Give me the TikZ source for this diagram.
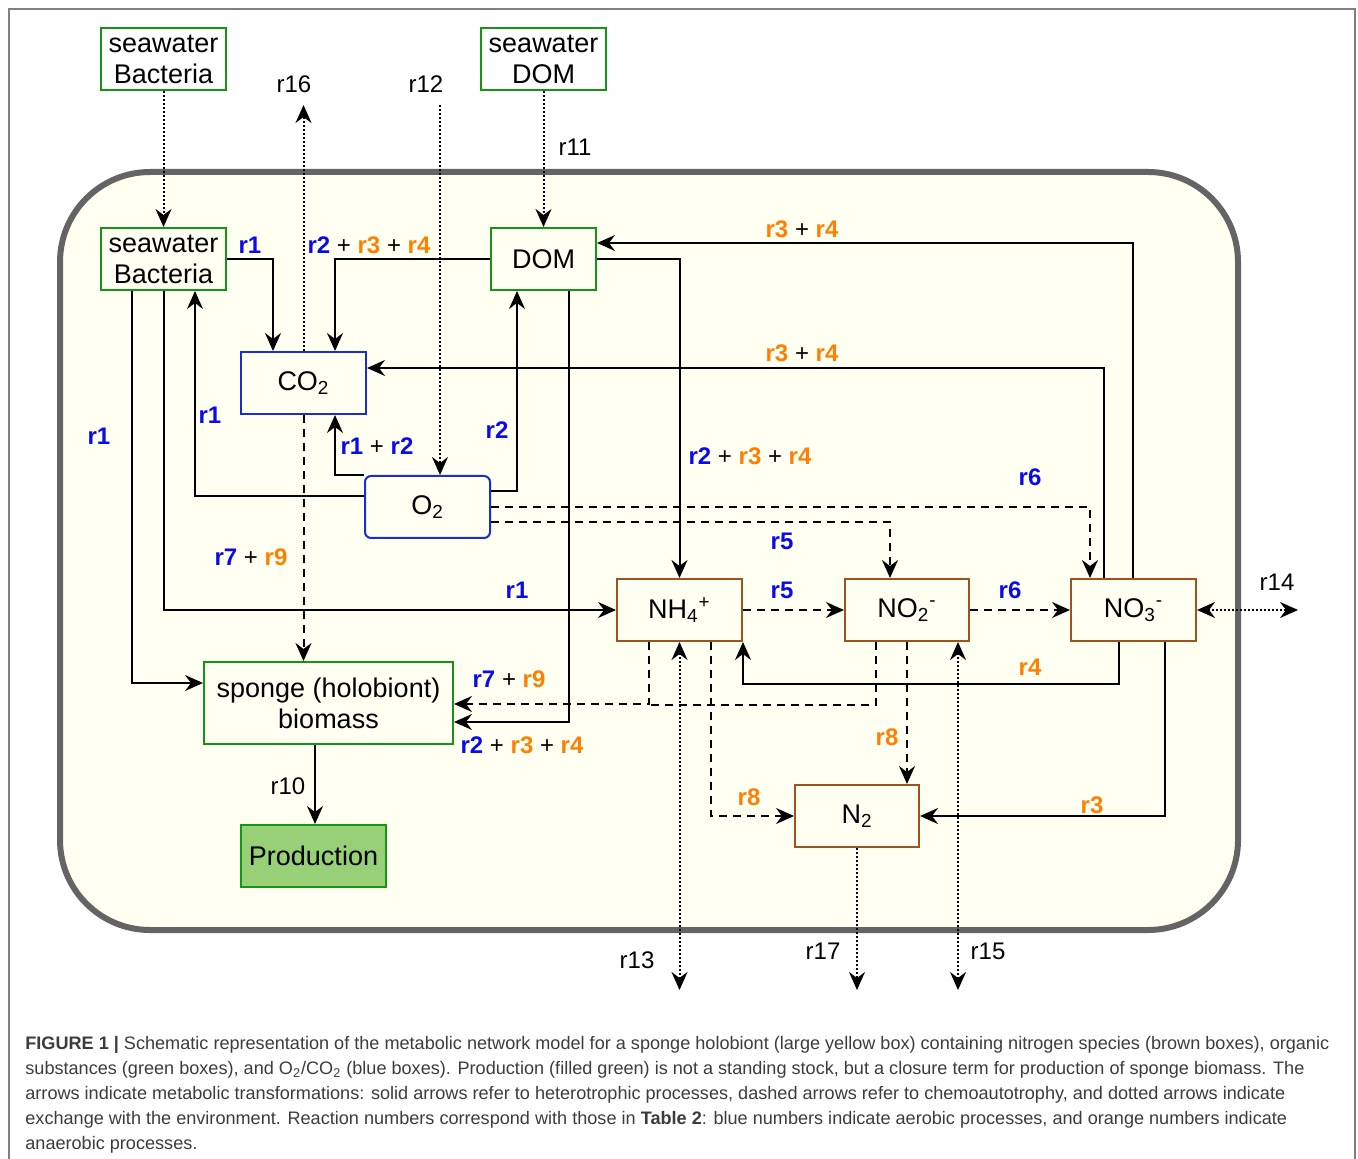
\documentclass[tikz,border=0pt]{standalone}
\usepackage{fontspec}
\setmainfont{Liberation Sans}
\usetikzlibrary{arrows.meta,calc}
\definecolor{gbox}{RGB}{20,150,20}
\definecolor{bbox}{RGB}{25,45,215}
\definecolor{nbox}{RGB}{160,82,30}
\definecolor{lblue}{RGB}{10,10,240}
\definecolor{lorange}{RGB}{255,128,0}
\definecolor{bgfill}{RGB}{255,255,242}
\definecolor{prodfill}{RGB}{151,208,119}
\definecolor{framegray}{RGB}{100,100,100}
\definecolor{captxt}{RGB}{60,60,60}
\newcommand{\rb}[1]{\textcolor{lblue}{\textbf{#1}}}
\newcommand{\ro}[1]{\textcolor{lorange}{\textbf{#1}}}
\begin{document}
\begin{tikzpicture}[x=0.5pt,y=-0.5pt,
  bx/.style={draw=#1,line width=1pt,inner sep=0pt,align=center,font=\fontsize{13.5}{15.5}\selectfont},
  gb/.style={bx=gbox},
  bb/.style={bx=bbox},
  nb/.style={bx=nbox},
  tip/.tip={Stealth[length=9pt,width=8pt,inset=3pt]},
  conn/.style={line width=1pt,-tip},
  dsh/.style={conn,dash pattern=on 4pt off 3pt},
  dtt/.style={conn,dash pattern=on 1pt off 1pt},
  lbl/.style={font=\fontsize{12}{14}\selectfont,inner sep=0pt}]
\useasboundingbox (0,0) rectangle (1358,1159);
\fill[white] (0,0) rectangle (1358,1159);
\draw[line width=0.6pt,gray] (9,1159) -- (9,9) -- (1355,9) -- (1355,1159);
\draw[line width=3pt,draw=framegray,fill=bgfill,rounded corners=45pt] (60,172) rectangle (1238,930);

% nodes
\node[gb,minimum width=62.5pt,minimum height=31pt] (swb) at (163.5,59) {seawater\\Bacteria};
\node[gb,minimum width=62.5pt,minimum height=31pt] (swd) at (543.5,59) {seawater\\DOM};
\node[gb,minimum width=62.5pt,minimum height=31pt] (bact) at (163.5,259) {seawater\\Bacteria};
\node[gb,minimum width=52.5pt,minimum height=31pt] (dom) at (543.5,259) {DOM};
\node[bb,minimum width=62.5pt,minimum height=31pt] (co2) at (303.5,383) {CO\textsubscript{2}};
\node[bb,rounded corners=3pt,minimum width=62.5pt,minimum height=31pt] (o2) at (427.5,507) {O\textsubscript{2}};
\node[nb,minimum width=62.5pt,minimum height=31pt] (nh4) at (679.5,610) {NH\textsubscript{4}\textsuperscript{+}};
\node[nb,minimum width=62pt,minimum height=31pt] (no2) at (907,610) {NO\textsubscript{2}\textsuperscript{-}};
\node[nb,minimum width=62.5pt,minimum height=31pt] (no3) at (1133.5,610) {NO\textsubscript{3}\textsuperscript{-}};
\node[gb,minimum width=124.5pt,minimum height=41pt] (sponge) at (328.5,703) {sponge (holobiont)\\biomass};
\node[gb,fill=prodfill,minimum width=72.5pt,minimum height=31pt] (prod) at (313.5,856) {Production};
\node[nb,minimum width=62pt,minimum height=31pt] (n2) at (857,816) {N\textsubscript{2}};

% free ends
\coordinate (e16) at (303.5,105);
\coordinate (e12) at (440,105);
\coordinate (e14) at (1298,610);
\coordinate (e13) at (679.5,990);
\coordinate (e15) at (958,990);
\coordinate (e17) at (857,990);

% exchange (dotted)
\draw[dtt] (swb.south) -- (bact.north);
\draw[dtt] (swd.south) -- (dom.north);
\draw[dtt] (co2.north) -- (e16);
\draw[dtt] (e12) -- ($(o2.north)+(12.5,0)$);
\draw[dtt,tip-tip] (no3.east) -- (e14);
\draw[dtt,tip-tip] (nh4.south) -- (e13);
\draw[dtt,tip-tip] ($(no2.south)+(51,0)$) -- (e15);
\draw[dtt] (n2.south) -- (e17);

% solid
\draw[conn] (bact.east) -| ($(co2.north)+(-30.5,0)$);
\draw[conn] (dom.west) -| ($(co2.north)+(31.5,0)$);
\draw[conn] (o2.north west) -| ($(co2.south)+(31.5,0)$);
\draw[conn] ($(o2.west)+(0,-11)$) -| ($(bact.south)+(31.5,0)$);
\draw[conn] ($(o2.east)+(0,-16)$) -| ($(dom.south)+(-26.5,0)$);
\draw[conn] (dom.east) -| (nh4.north);
\draw[conn] ($(dom.south)+(25.5,0)$) |- ($(sponge.east)+(0,19)$);
\draw[conn] ($(no3.north)+(-0.5,0)$) |- ($(dom.east)+(0,-16)$);
\draw[conn] ($(no3.north)+(-29.5,0)$) |- ($(co2.east)+(0,-15)$);
\draw[conn] (bact.south) |- (nh4.west);
\draw[conn] ($(bact.south)+(-31.5,0)$) |- ($(sponge.west)+(0,-20)$);
\draw[conn] ($(no3.south)+(-14.5,0)$) |- ($(nh4.south east)+(0,42)$) -- (nh4.south east);
\draw[conn] ($(no3.south)+(31.5,0)$) |- (n2.east);
\draw[conn] ($(sponge.south)+(-13.5,0)$) -- ($(prod.north)+(1.5,0)$);

% dashed
\draw[dsh] (o2.east) -| ($(no3.north)+(-43.5,0)$);
\draw[dsh] ($(o2.east)+(0,15)$) -| ($(no2.north)+(-17,0)$);
\draw[dsh] (co2.south) -- ($(sponge.north)+(-25,0)$);
\draw[dsh] (nh4.east) -- (no2.west);
\draw[dsh] (no2.east) -- (no3.west);
\draw[dsh] ($(nh4.south)+(-30.5,0)$) |- ($(sponge.east)+(0,1)$);
\draw[line width=1pt,dash pattern=on 4pt off 3pt] ($(no2.south)+(-31,0)$) |- ($(nh4.south)+(-30.5,63)$);
\draw[dsh] (no2.south) -- ($(n2.north)+(50,0)$);
\draw[dsh] ($(nh4.south)+(31.5,0)$) |- (n2.west);

% labels
\node[lbl] (t11) at (575,147) {r11};
\node[lbl] (t16) at (294,84) {r16};
\node[lbl] (t12) at (426,84) {r12};
\node[lbl] (t1a) at (250,245) {\rb{r1}};
\node[lbl] (t234a) at (369,245) {\rb{r2} + \ro{r3} + \ro{r4}};
\node[lbl] (t12b) at (377,446) {\rb{r1} + \rb{r2}};
\node[lbl] (t1b) at (210,415) {\rb{r1}};
\node[lbl] (t2a) at (497,430) {\rb{r2}};
\node[lbl] (t234b) at (750,456) {\rb{r2} + \ro{r3} + \ro{r4}};
\node[lbl] (t234c) at (522,745) {\rb{r2} + \ro{r3} + \ro{r4}};
\node[lbl] (t34a) at (802,229) {\ro{r3} + \ro{r4}};
\node[lbl] (t34b) at (802,353) {\ro{r3} + \ro{r4}};
\node[lbl] (t6a) at (1030,477) {\rb{r6}};
\node[lbl] (t5a) at (782,541) {\rb{r5}};
\node[lbl] (t1c) at (517,590) {\rb{r1}};
\node[lbl] (t1d) at (99,436) {\rb{r1}};
\node[lbl] (t79a) at (251,557) {\rb{r7} + \ro{r9}};
\node[lbl] (t79b) at (509,679) {\rb{r7} + \ro{r9}};
\node[lbl] (t5b) at (782,590) {\rb{r5}};
\node[lbl] (t6b) at (1010,590) {\rb{r6}};
\node[lbl] (t14) at (1277,582) {r14};
\node[lbl] (t4) at (1030,667) {\ro{r4}};
\node[lbl] (t8a) at (887,737) {\ro{r8}};
\node[lbl] (t8b) at (749,797) {\ro{r8}};
\node[lbl] (t3) at (1092,805) {\ro{r3}};
\node[lbl] (t13) at (637,960) {r13};
\node[lbl] (t15) at (988,951) {r15};
\node[lbl] (t17) at (823,951) {r17};
\node[lbl] (t10) at (288,786) {r10};

% caption
\node[anchor=north west,align=left,inner sep=0pt,text=captxt,font=\fontsize{9.05}{12.5}\selectfont] (cap) at (25,1036) {%
\textbf{FIGURE 1 |} Schematic representation of the metabolic network model for a sponge holobiont (large yellow box) containing nitrogen species (brown boxes), organic\\
substances (green boxes), and O\textsubscript{2}/CO\textsubscript{2} (blue boxes). Production (filled green) is not a standing stock, but a closure term for production of sponge biomass. The\\
arrows indicate metabolic transformations: solid arrows refer to heterotrophic processes, dashed arrows refer to chemoautotrophy, and dotted arrows indicate\\
exchange with the environment. Reaction numbers correspond with those in \textbf{Table 2}: blue numbers indicate aerobic processes, and orange numbers indicate\\
anaerobic processes.};
\end{tikzpicture}
\end{document}
